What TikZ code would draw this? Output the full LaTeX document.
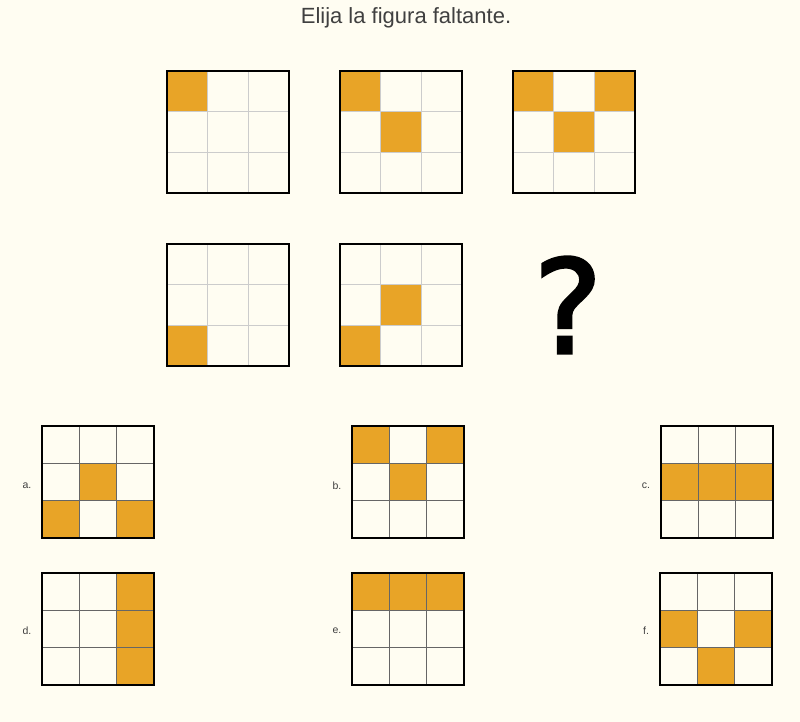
\documentclass[tikz,border=0pt]{standalone}
\usepackage{fontspec}
\setmainfont{Liberation Sans}
\newfontfamily\askfont[FakeBold=2.2]{DejaVu Sans}
\usepackage{tikz}
\usepackage{xcolor}

\definecolor{paper}{HTML}{FFFDF2}
\definecolor{tileorange}{HTML}{E8A427}
\definecolor{titlegray}{HTML}{404040}

\tikzset{
  frame/.style={line width=2.6pt, black},
  lightline/.style={line width=1.5pt, gray!40},
  darkline/.style={line width=1.1pt, gray!80!black},
  optlabel/.style={font=\fontsize{10.5}{10.5}\selectfont, text=titlegray},
}

% #1 x, #2 y, #3 size, #4 inner line style, #5 filled cells col/row
\newcommand{\gridbox}[5]{%
  \foreach \c/\r in {#5}
    \fill[tileorange] ({#1+\c*#3/3}, {#2+\r*#3/3}) rectangle ++({#3/3}, {#3/3});
  \foreach \i in {1,2} {
    \draw[#4] ({#1+\i*#3/3}, #2) -- ++(0, #3);
    \draw[#4] (#1, {#2+\i*#3/3}) -- ++(#3, 0);
  }
  \draw[frame] (#1, #2) rectangle ++(#3, #3);
}

\begin{document}
\begin{tikzpicture}[x=1pt, y=-1pt]
  % page
  \fill[paper] (0, 0) rectangle (800, 722);
  \useasboundingbox (0, 0) rectangle (800, 722);
  % title
  \node[font=\fontsize{22}{22}\selectfont, text=titlegray] (title) at (406, 18) {Elija la figura faltante.};
  % first row of the sequence
  \gridbox{167}{71}{122}{lightline}{0/0}
  \gridbox{340}{71}{122}{lightline}{0/0, 1/1}
  \gridbox{513}{71}{122}{lightline}{0/0, 2/0, 1/1}
  % second row of the sequence
  \gridbox{167}{244}{122}{lightline}{0/2}
  \gridbox{340}{244}{122}{lightline}{1/1, 0/2}
  \node[font=\askfont\fontsize{130}{130}\selectfont] (ask) at (568, 305) {?};
  % answer options
  \gridbox{42}{426}{112}{darkline}{1/1, 0/2, 2/2}
  \node[optlabel] (la) at (27, 486) {a.};
  \gridbox{352}{426}{112}{darkline}{0/0, 2/0, 1/1}
  \node[optlabel] (lb) at (337, 486) {b.};
  \gridbox{661}{426}{112}{darkline}{0/1, 1/1, 2/1}
  \node[optlabel] (lc) at (646, 486) {c.};
  \gridbox{42}{573}{112}{darkline}{2/0, 2/1, 2/2}
  \node[optlabel] (ld) at (27, 631) {d.};
  \gridbox{352}{573}{112}{darkline}{0/0, 1/0, 2/0}
  \node[optlabel] (le) at (337, 631) {e.};
  \gridbox{660}{573}{112}{darkline}{0/1, 2/1, 1/2}
  \node[optlabel] (lf) at (646, 631) {f.};
\end{tikzpicture}
\end{document}
